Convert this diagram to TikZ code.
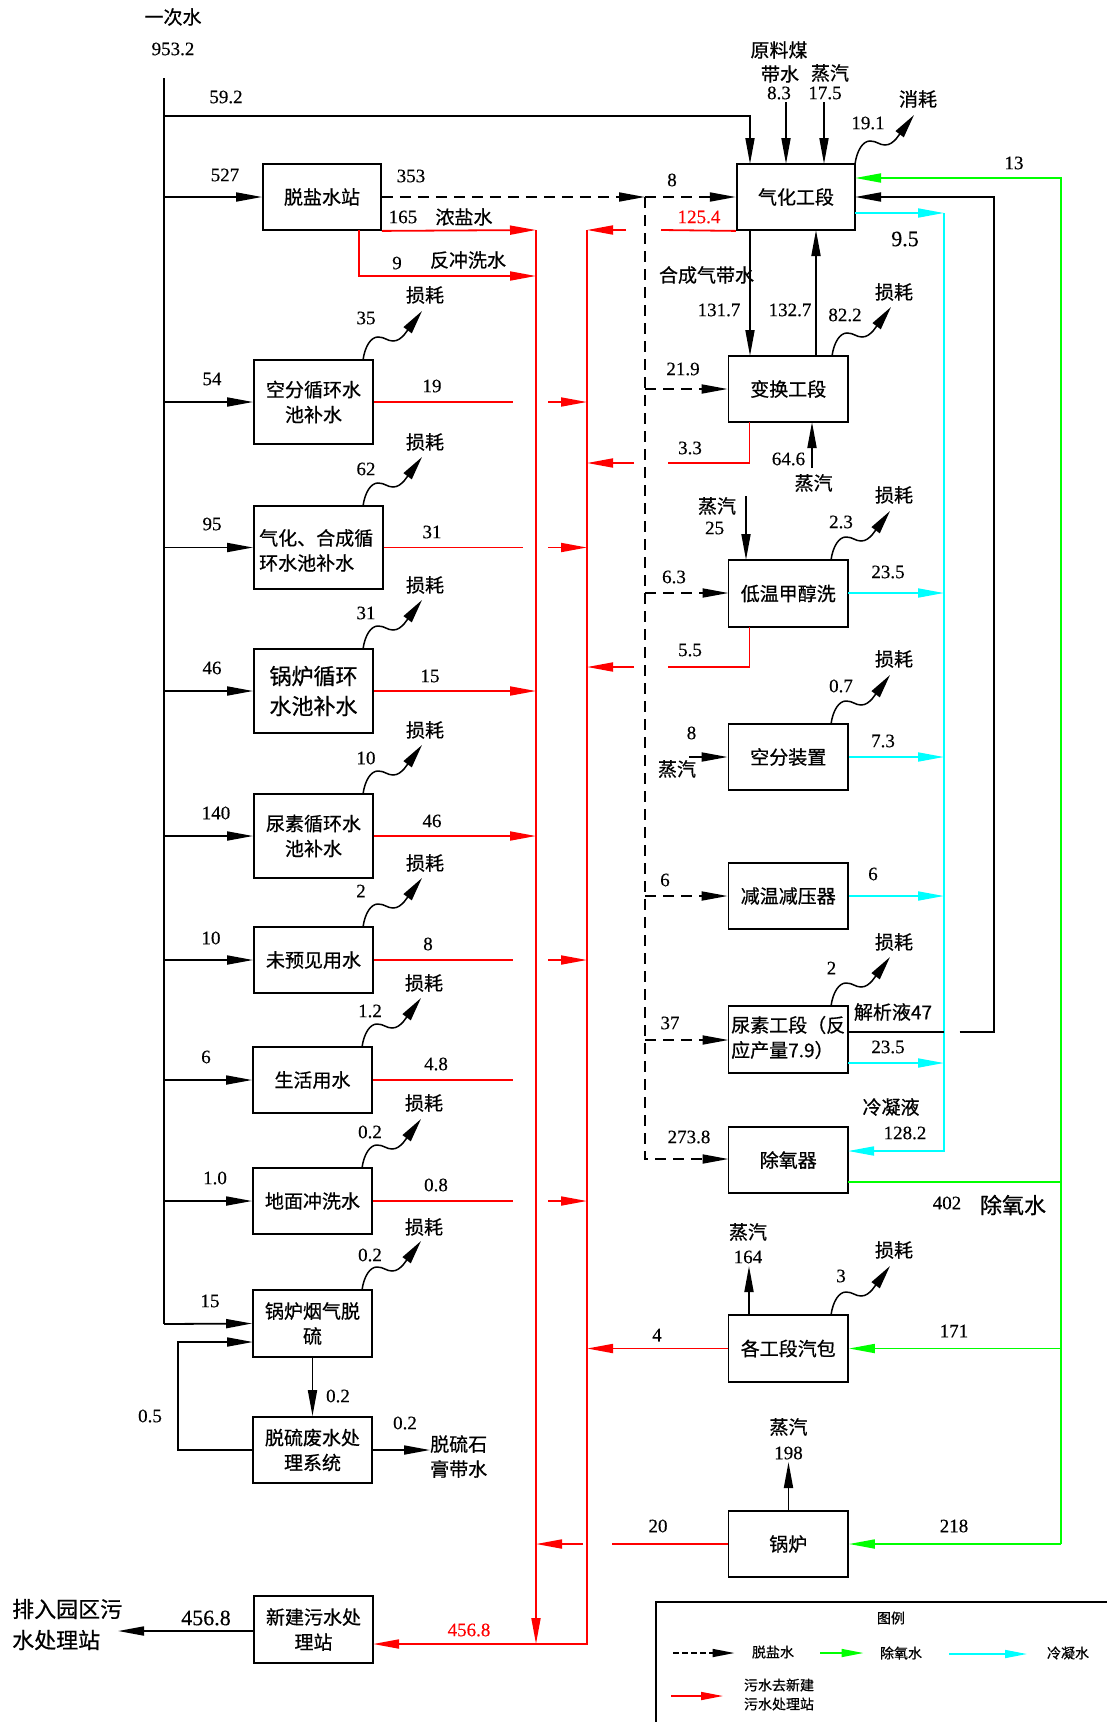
\documentclass[tikz,border=0pt]{standalone}
\usepackage{fontspec}
\setmainfont{Liberation Serif}[FakeBold=0.3]
\newfontfamily\cjk{Noto Sans CJK SC}[FakeBold=0.6]
\usetikzlibrary{arrows.meta}
\definecolor{cy}{RGB}{0,255,255}
\definecolor{gr}{RGB}{0,255,0}
\definecolor{rd}{RGB}{255,0,0}
\tikzset{
 ln/.style={line width=1.8pt},
 arr/.style={ln,-{Triangle[length=26pt,width=9pt]}},
 dsh/.style={ln,dash pattern=on 11pt off 7pt},
 darr/.style={dsh,-{Triangle[length=26pt,width=9pt]}},
 rln/.style={ln,rd},
 rarr/.style={arr,rd},
 gln/.style={ln,gr},
 garr/.style={arr,gr},
 carr/.style={arr,cy},
 box/.style={draw,line width=1.8pt,inner sep=0pt,align=center,font=\cjk\fontsize{19}{25}\selectfont},
 num/.style={inner sep=0pt,font=\fontsize{19}{20}\selectfont},
 bignum/.style={inner sep=0pt,font=\fontsize{22}{22}\selectfont},
 zh/.style={inner sep=0pt,align=center,font=\cjk\fontsize{19}{25}\selectfont},
 bigzh/.style={inner sep=0pt,align=center,font=\cjk\fontsize{22}{30}\selectfont},
 smallzh/.style={inner sep=0pt,align=center,font=\cjk\fontsize{14}{19}\selectfont},
 wave/.style={line width=1.5pt,-{Triangle[length=24pt,width=10pt]}},
 lgd/.style={line width=1.6pt,-{Triangle[length=22pt,width=8pt]}},
 loss/.pic={\draw[wave] (0,0) .. controls (2,-14) and (8,-23) .. (15,-23) .. controls (22,-23) and (24,-19) .. (30,-19) .. controls (35,-19) and (38,-22) .. (41,-25) -- (59,-49);},
}
\begin{document}
\begin{tikzpicture}[x=1pt,y=-1pt]
\useasboundingbox (0,0) rectangle (1107,1722);
\fill[white] (0,0) rectangle (1107,1722);

% ---------- boxes left column
\node[box,minimum width=118pt,minimum height=66pt] (dm) at (322,197) {脱盐水站};
\node[box,minimum width=119pt,minimum height=84pt] (b1) at (313.5,402) {空分循环水\\池补水};
\node[box,minimum width=129pt,minimum height=83pt] (b2) at (318.5,547.5) {};
\node[zh,anchor=west] (b2t1) at (259,538) {气化、合成循};
\node[zh,anchor=west] (b2t2) at (259,563) {环水池补水};
\node[box,minimum width=119pt,minimum height=84pt,font=\cjk\fontsize{22}{30}\selectfont] (b3) at (313.5,691) {锅炉循环\\水池补水};
\node[box,minimum width=119pt,minimum height=84pt] (b4) at (313.5,836) {尿素循环水\\池补水};
\node[box,minimum width=119pt,minimum height=66pt] (b5) at (313.5,960) {未预见用水};
\node[box,minimum width=119pt,minimum height=66pt] (b6) at (312.5,1080) {生活用水};
\node[box,minimum width=119pt,minimum height=66pt] (b7) at (312.5,1201) {地面冲洗水};
\node[box,minimum width=119pt,minimum height=67pt] (b8) at (312.5,1323.5) {锅炉烟气脱\\硫};
\node[box,minimum width=119pt,minimum height=66pt] (b9) at (312.5,1450) {脱硫废水处\\理系统};
\node[box,minimum width=119pt,minimum height=67pt] (b10) at (313.5,1629.5) {新建污水处\\理站};

% ---------- boxes right column
\node[box,minimum width=118.5pt,minimum height=66pt] (gas) at (796,197) {气化工段};
\node[box,minimum width=119.5pt,minimum height=66pt] (shift) at (788.25,389) {变换工段};
\node[box,minimum width=119.5pt,minimum height=67pt] (meth) at (788.25,593.5) {低温甲醇洗};
\node[box,minimum width=119.5pt,minimum height=66pt] (asu) at (788.25,757) {空分装置};
\node[box,minimum width=119.5pt,minimum height=66pt] (tw) at (788.25,896) {减温减压器};
\node[box,minimum width=119.5pt,minimum height=67pt] (urea) at (788.25,1039.5) {};
\node[zh,anchor=west] (ut1) at (731,1025) {尿素工段（反};
\node[zh,anchor=west] (ut2) at (731,1050) {应产量7.9）};
\node[box,minimum width=119.5pt,minimum height=66pt] (dea) at (788.25,1160) {除氧器};
\node[box,minimum width=119.5pt,minimum height=67pt] (drum) at (788.25,1348.5) {各工段汽包};
\node[box,minimum width=119.5pt,minimum height=66pt] (boil) at (788.25,1544) {锅炉};

% ---------- primary water supply
\coordinate (src) at (164,78);
\draw[ln] (src) -- (164,1324);
\draw[arr] (164,1324) -- (b8.west);
\draw[arr] (164,116) -| (750,164);
\draw[arr] (164,197) -- (dm.west);
\draw[arr] (164,402) -- (b1.west);
\draw[arr] (164,547.5) -- (b2.west);
\draw[arr] (164,691) -- (b3.west);
\draw[arr] (164,836) -- (b4.west);
\draw[arr] (164,960) -- (b5.west);
\draw[arr] (164,1080) -- (b6.west);
\draw[arr] (164,1201) -- (b7.west);

% ---------- red sewage
\draw[rarr] (dm.south east) -- (536,230);
\draw[rarr] (359,230) |- (536,276);
\draw[rarr] (536,230) -- (536,1644);
\draw[rarr] (587,230) -- (587,1644) -- (373,1644);
\draw[rln] (gas.south west) -- (661,230);
\draw[rarr] (626,230) -- (587,230);
\draw[rln] (b1.east) -- (513,402);
\draw[rarr] (548,402) -- (587,402);
\draw[rln] (b2.east) -- (523,547.5);
\draw[rarr] (548,547.5) -- (587,547.5);
\draw[rarr] (b3.east) -- (536,691);
\draw[rarr] (b4.east) -- (536,836);
\draw[rln] (b5.east) -- (513,960);
\draw[rarr] (548,960) -- (587,960);
\draw[rln] (b6.east) -- (512.5,1080);
\draw[rln] (b7.east) -- (512.5,1201);
\draw[rarr] (548,1201) -- (587,1201);
\draw[rln] (749.5,422) |- (668,463);
\draw[rarr] (634,463) -- (587,463);
\draw[rln] (749.5,627) |- (668,667);
\draw[rarr] (634,667) -- (587,667);
\draw[rarr] (drum.west) -- (587,1348.5);
\draw[rln] (boil.west) -- (612,1544);
\draw[rarr] (583,1544) -- (536,1544);

% ---------- demineralised water (dashed)
\draw[darr] (dm.east) -- (645,197);
\draw[darr] (645,197) -- (gas.west);
\draw[darr] (645,197) -- (645,1159) -- (728.5,1159);
\draw[darr] (645,389) -- (shift.west);
\draw[darr] (645,593) -- (728.5,593);
\draw[darr] (645,896) -- (tw.west);
\draw[darr] (645,1040) -- (728.5,1040);

% ---------- green deaerated water
\draw[gln] (848,1182) -- (1061,1182);
\draw[garr] (1061,1544) -- (1061,178) -- (855,178);
\draw[garr] (1061,1348.5) -- (drum.east);
\draw[garr] (1061,1544) -- (boil.east);

% ---------- cyan condensate
\draw[carr] (855,213) -- (944,213);
\draw[carr] (944,213) -- (944,1151) -- (848,1151);
\draw[carr] (848,593) -- (944,593);
\draw[carr] (asu.east) -- (944,757);
\draw[carr] (tw.east) -- (944,896);
\draw[carr] (848,1063) -- (944,1063);

% ---------- black return (解析液)
\draw[ln] (848,1032) -- (944,1032);
\draw[arr] (959.5,1032) -- (994,1032) -- (994,197) -- (855,197);

% ---------- other black arrows
\draw[arr] (786,102) -- (786,164);
\draw[arr] (824,102) -- (824,164);
\draw[arr] (750,230) -- (750,356);
\draw[arr] (816,356) -- (816,230);
\draw[arr] (812,468) -- (812,422);
\draw[arr] (746,496) -- (746,560);
\draw[arr] (689,757) -- (asu.west);
\draw[arr] (749,1315) -- (749,1266);
\draw[arr] (788.5,1511) -- (788.5,1462);
\draw[arr] (b8.south) -- (b9.north);
\draw[arr] (b9.west) -- (178,1450) -- (178,1342) -- (253,1342);
\draw[arr] (b9.east) -- (430,1450);
\draw[arr] (254,1631) -- (118,1631);

% ---------- losses
\pic at (363,360) {loss};
\pic at (363,506) {loss};
\pic at (363,649) {loss};
\pic at (363,794) {loss};
\pic at (363,927) {loss};
\pic at (362,1047) {loss};
\pic at (362,1168) {loss};
\pic at (362,1290) {loss};
\pic at (855,164) {loss};
\pic at (832,356) {loss};
\pic at (831,560) {loss};
\pic at (831,724) {loss};
\pic at (831,1006) {loss};
\pic at (831,1315) {loss};

% ---------- numbers
\node[num] (n1) at (226,97) {59.2};
\node[num] (n2) at (173,49) {953.2};
\node[num] (n3) at (225,175) {527};
\node[num] (n4) at (411,176) {353};
\node[num] (n5) at (403,217) {165};
\node[num] (n6) at (397,263) {9};
\node[num] (n7) at (212,379) {54};
\node[num] (n8) at (432,386) {19};
\node[num] (n9) at (366,318) {35};
\node[num] (n10) at (212,524) {95};
\node[num] (n11) at (432,532) {31};
\node[num] (n12) at (366,469) {62};
\node[num] (n13) at (212,668) {46};
\node[num] (n14) at (430,676) {15};
\node[num] (n15) at (366,613) {31};
\node[num] (n16) at (216,813) {140};
\node[num] (n17) at (432,821) {46};
\node[num] (n18) at (366,758) {10};
\node[num] (n19) at (211,938) {10};
\node[num] (n20) at (428,944) {8};
\node[num] (n21) at (361,891) {2};
\node[num] (n22) at (206,1057) {6};
\node[num] (n23) at (436,1064) {4.8};
\node[num] (n24) at (370,1011) {1.2};
\node[num] (n25) at (215,1178) {1.0};
\node[num] (n26) at (436,1185) {0.8};
\node[num] (n27) at (370,1132) {0.2};
\node[num] (n28) at (210,1301) {15};
\node[num] (n29) at (370,1255) {0.2};
\node[num] (n30) at (338,1396) {0.2};
\node[num] (n31) at (150,1416) {0.5};
\node[num] (n32) at (405,1423) {0.2};
\node[bignum] (n33) at (206,1618) {456.8};
\node[num,rd] (n34) at (469,1630) {456.8};
\node[num] (n35) at (779,93) {8.3};
\node[num] (n36) at (825,93) {17.5};
\node[num] (n37) at (868,123) {19.1};
\node[num] (n38) at (672,180) {8};
\node[num,rd] (n39) at (699,217) {125.4};
\node[num] (n40) at (1014,163) {13};
\node[bignum] (n41) at (905,239) {9.5};
\node[num] (n42) at (719,310) {131.7};
\node[num] (n43) at (790,310) {132.7};
\node[num] (n44) at (845,315) {82.2};
\node[num] (n45) at (683,369) {21.9};
\node[num] (n46) at (690,448) {3.3};
\node[num] (n47) at (788.5,459) {64.6};
\node[num] (n48) at (714.6,528) {25};
\node[num] (n49) at (841,522) {2.3};
\node[num] (n50) at (674,577) {6.3};
\node[num] (n51) at (888,572) {23.5};
\node[num] (n52) at (690,650) {5.5};
\node[num] (n53) at (841,686) {0.7};
\node[num] (n54) at (691.5,733) {8};
\node[num] (n55) at (883,741) {7.3};
\node[num] (n56) at (665,880) {6};
\node[num] (n57) at (873,874) {6};
\node[num] (n58) at (831.5,968) {2};
\node[num] (n59) at (670,1023) {37};
\node[num] (n60) at (888,1047) {23.5};
\node[num] (n61) at (689,1137) {273.8};
\node[num] (n62) at (905,1133) {128.2};
\node[num] (n63) at (947,1203) {402};
\node[num] (n64) at (748,1257) {164};
\node[num] (n65) at (841,1276) {3};
\node[num] (n66) at (954,1331) {171};
\node[num] (n67) at (657,1335) {4};
\node[num] (n68) at (788.5,1453) {198};
\node[num] (n69) at (658,1526) {20};
\node[num] (n70) at (954,1526) {218};

% ---------- Chinese labels
\node[zh] (z1) at (173,17) {一次水};
\node[zh] (z2) at (464,217) {浓盐水};
\node[zh] (z3) at (468,260) {反冲洗水};
\node[zh] (z4) at (425,295) {损耗};
\node[zh] (z5) at (425,442) {损耗};
\node[zh] (z6) at (425,585) {损耗};
\node[zh] (z7) at (425,730) {损耗};
\node[zh] (z8) at (425,863) {损耗};
\node[zh] (z9) at (424,983) {损耗};
\node[zh] (z10) at (424,1103) {损耗};
\node[zh] (z11) at (424,1227) {损耗};
\node[zh,anchor=west] (z12) at (430,1444) {脱硫石};
\node[zh,anchor=west] (z13) at (430,1469) {膏带水};
\node[bigzh,anchor=west] (z14) at (12,1609) {排入园区污};
\node[bigzh,anchor=west] (z15) at (12,1640) {水处理站};
\node[zh] (z16) at (779,50) {原料煤};
\node[zh] (z17) at (780,74) {带水};
\node[zh] (z18) at (830,73) {蒸汽};
\node[zh] (z19) at (918,99) {消耗};
\node[zh] (z20) at (706.5,275) {合成气带水};
\node[zh] (z21) at (894,292) {损耗};
\node[zh] (z22) at (894,495) {损耗};
\node[zh] (z23) at (894,659) {损耗};
\node[zh] (z24) at (894,942) {损耗};
\node[zh] (z25) at (894,1250) {损耗};
\node[zh] (z26) at (813.6,483) {蒸汽};
\node[zh] (z27) at (717,506) {蒸汽};
\node[zh] (z28) at (677,769) {蒸汽};
\node[zh] (z29) at (893,1012) {解析液47};
\node[zh] (z30) at (891,1107) {冷凝液};
\node[bigzh] (z31) at (1013,1205) {除氧水};
\node[zh] (z32) at (748,1232) {蒸汽};
\node[zh] (z33) at (788.5,1427) {蒸汽};

% ---------- legend
\draw[line width=1.5pt] (1107,1602) -- (656,1602) -- (656,1722);
\node[smallzh] (g0) at (891,1618) {图例};
\draw[lgd,dash pattern=on 6pt off 3pt] (673,1653) -- (734.5,1653);
\node[smallzh] (g1) at (773,1652) {脱盐水};
\draw[lgd,gr] (820,1653) -- (863.5,1653);
\node[smallzh] (g2) at (901,1653) {除氧水};
\draw[lgd,cy] (949,1654) -- (1027,1654);
\node[smallzh] (g3) at (1068,1653) {冷凝水};
\draw[lgd,rd] (671,1696) -- (723,1696);
\node[smallzh] (g4) at (779,1685) {污水去新建};
\node[smallzh] (g5) at (779,1704) {污水处理站};
\end{tikzpicture}
\end{document}
